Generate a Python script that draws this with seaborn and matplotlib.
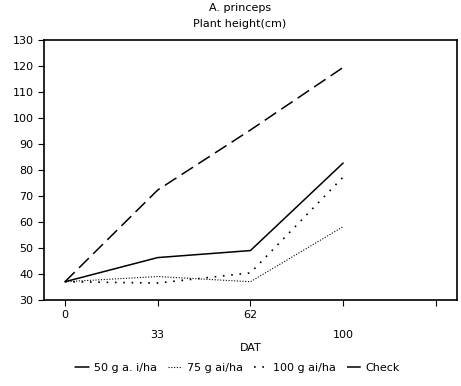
import numpy as np
import pandas as pd
import seaborn as sns
import matplotlib
matplotlib.use('Agg')
import matplotlib.pyplot as plt
import matplotlib.transforms as mtransforms

# values
dat_days = [0, 33, 62, 100]
treatments = ['50 g a.i/ha', '75 g ai/ha', '100 g ai/ha', 'Check']
height_50 = [37, 46.3, 49, 82.7]
height_75 = [37, 39, 37, 58.2]
height_100 = [37, 36.5, 40.4, 77.3]
height_check = [37, 72.3, 95.4, 119.5]
x_ticklabels = ['0', '33', '62', '100', '']

rows = []
for name, vals in zip(treatments, [height_50, height_75, height_100, height_check]):
    for i, (d, v) in enumerate(zip(dat_days, vals)):
        rows.append({'pos': i, 'DAT': d, 'height': v, 'treatment': name})
df = pd.DataFrame(rows)

sns.set_theme(style='ticks')
plt.rcParams['font.family'] = ['DejaVu Sans']
plt.rcParams['text.color'] = 'black'
plt.rcParams['axes.labelcolor'] = 'black'

fig = plt.figure(figsize=(4.61, 3.86), dpi=100)
ax = fig.add_axes([0.0954, 0.223, 0.8956, 0.673])

dashes = {
    '50 g a.i/ha': '',
    '75 g ai/ha': (1, 1.5),
    '100 g ai/ha': (1, 4),
    'Check': (9, 4),
}
widths = {'50 g a.i/ha': 1.1, '75 g ai/ha': 0.8, '100 g ai/ha': 1.2, 'Check': 1.1}

sns.lineplot(data=df, x='pos', y='height', hue='treatment', style='treatment',
             palette=['black'] * 4, dashes=dashes, hue_order=treatments,
             style_order=treatments, ax=ax, legend=False)
for line, name in zip(ax.get_lines(), treatments):
    line.set_linewidth(widths[name])

ax.set_xlim(-0.226, 4.226)
ax.set_ylim(30, 130)
ax.set_yticks(np.arange(30, 131, 10))
ax.set_xticks(range(5))
ax.set_xticklabels(x_ticklabels)
ax.tick_params(axis='both', labelsize=8, length=4, width=0.8, colors='black')
for i, lab in enumerate(ax.get_xticklabels()):
    if i % 2 == 1:
        lab.set_transform(lab.get_transform() + mtransforms.ScaledTranslation(0, -0.2, fig.dpi_scale_trans))
for sp in ax.spines.values():
    sp.set_linewidth(1.2)
    sp.set_color('black')

ax.set_xlabel('DAT', fontsize=8, labelpad=2)
ax.set_ylabel('')
fig.text(0.52, 0.978, 'A. princeps', ha='center', va='center', fontsize=8)
fig.text(0.52, 0.937, 'Plant height(cm)', ha='center', va='center', fontsize=8)

handles = [plt.Line2D([], [], color='black', lw=widths[n],
                      dashes=dashes[n] if dashes[n] else (None, None)) for n in treatments]
handles[0].set_linestyle('-')
fig.legend(handles, ['50 g a. i/ha', '75 g ai/ha', '100 g ai/ha', 'Check'],
           loc='center', bbox_to_anchor=(0.515, 0.047), ncol=4, frameon=False,
           fontsize=8, handlelength=1.3, handletextpad=0.4, columnspacing=1.0)

fig.savefig('out.png', dpi=100)
